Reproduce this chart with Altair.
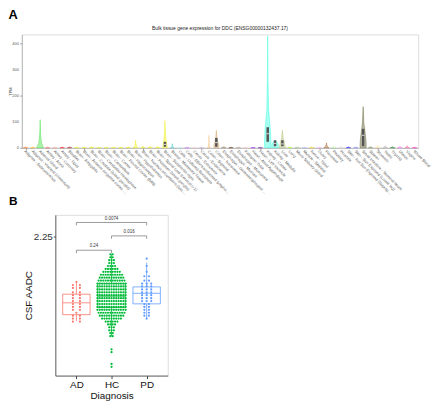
import altair as alt
import pandas as pd

FONT = "Liberation Sans"

# ---------------- Panel A data (GTEx violin) ----------------
tissues = [
    "Adipose - Subcutaneous", "Adipose - Visceral (Omentum)", "Adrenal Gland",
    "Artery - Aorta", "Artery - Coronary", "Artery - Tibial", "Bladder",
    "Brain - Amygdala", "Brain - Anterior cingulate cortex (BA24)",
    "Brain - Caudate (basal ganglia)", "Brain - Cerebellar Hemisphere",
    "Brain - Cerebellum", "Brain - Cortex", "Brain - Frontal Cortex (BA9)",
    "Brain - Hippocampus", "Brain - Hypothalamus",
    "Brain - Nucleus accumbens (basal ganglia)", "Brain - Putamen (basal ganglia)",
    "Brain - Spinal cord (cervical c-1)", "Brain - Substantia nigra",
    "Breast - Mammary Tissue", "Cells - Cultured fibroblasts",
    "Cells - EBV-transformed lymphocytes", "Cervix - Ectocervix",
    "Cervix - Endocervix", "Colon - Sigmoid", "Colon - Transverse",
    "Esophagus - Gastroesophageal Junction", "Esophagus - Mucosa",
    "Esophagus - Muscularis", "Fallopian Tube", "Heart - Atrial Appendage",
    "Heart - Left Ventricle", "Kidney - Cortex", "Kidney - Medulla", "Liver",
    "Lung", "Minor Salivary Gland", "Muscle - Skeletal", "Nerve - Tibial",
    "Ovary", "Pancreas", "Pituitary", "Prostate",
    "Skin - Not Sun Exposed (Suprapubic)", "Skin - Sun Exposed (Lower leg)",
    "Small Intestine - Terminal Ileum", "Spleen", "Stomach", "Testis",
    "Thyroid", "Uterus", "Vagina", "Whole Blood",
]
tissue_colors = [
    "#FF6600", "#FFAA00", "#33DD33", "#FF5555", "#FFAA99", "#FF0000", "#AA0000",
    "#EEEE00", "#EEEE00", "#EEEE00", "#EEEE00", "#EEEE00", "#EEEE00", "#EEEE00",
    "#EEEE00", "#EEEE00", "#EEEE00", "#EEEE00", "#EEEE00", "#EEEE00",
    "#33CCCC", "#AAEEFF", "#CC66FF", "#FFCCCC", "#CCAADD", "#EEBB77", "#CC9955",
    "#8B7355", "#552200", "#BB9988", "#FFCCCC", "#9900FF", "#660099",
    "#22FFDD", "#22FFDD", "#AABB66", "#99FF00", "#99BB88", "#AAAAFF", "#FFD700",
    "#FFAAFF", "#995522", "#AAFF99", "#DDDDDD", "#0000FF", "#7777FF",
    "#555522", "#778855", "#FFDD99", "#AAAAAA", "#006600", "#FF66FF",
    "#FF5599", "#FF00BB",
]
# violin top (max TPM) per tissue
violin_top = [
    4, 3, 108, 3, 3, 3, 4, 4, 3, 5, 2, 2, 3, 3, 4, 29, 7, 6, 5, 104,
    16, 1, 2, 3, 3, 48, 67, 5, 3, 4, 4, 2, 2, 430, 30, 67, 4, 4, 2, 4,
    3, 19, 5, 6, 4, 4, 158, 5, 10, 8, 4, 5, 8, 2,
]
# relative heights at which violin half-widths are read
violin_levels = [0, 0.05, 0.15, 0.35, 0.6, 1.0]
violin_hw_default = [0.3, 0.28, 0.2, 0.12, 0.06, 0.0]
violin_hw = {
    2: [0.45, 0.4, 0.22, 0.1, 0.05, 0.0],
    15: [0.3, 0.3, 0.2, 0.1, 0.05, 0.0],
    19: [0.3, 0.3, 0.25, 0.12, 0.06, 0.0],
    20: [0.25, 0.2, 0.1, 0.05, 0.03, 0.0],
    25: [0.2, 0.15, 0.08, 0.04, 0.02, 0.0],
    26: [0.3, 0.32, 0.35, 0.2, 0.08, 0.0],
    33: [0.42, 0.45, 0.38, 0.12, 0.05, 0.0],
    34: [0.45, 0.45, 0.45, 0.45, 0.35, 0.0],
    35: [0.4, 0.4, 0.35, 0.25, 0.1, 0.0],
    41: [0.35, 0.3, 0.2, 0.1, 0.05, 0.0],
    46: [0.4, 0.42, 0.4, 0.28, 0.1, 0.0],
}
box_tissue = [19, 26, 33, 34, 35, 46]
box_q1 = [4, 4, 23, 6, 6, 6]
box_med = [13, 20, 54, 17, 15, 48]
box_q3 = [23, 38, 79, 29, 29, 73]
tpm_ticks = [0, 100, 200, 300, 400]

rows = []
for i, name in enumerate(tissues):
    hws = violin_hw.get(i, violin_hw_default)
    for lv, hw in zip(violin_levels, hws):
        rows.append({"tissue": name, "idx": i, "tpm": violin_top[i] * lv, "hw": hw})
vio_df = pd.DataFrame(rows)
box_df = pd.DataFrame({"idx": box_tissue, "q1": box_q1, "med": box_med, "q3": box_q3})
lab_df = pd.DataFrame({"idx": list(range(len(tissues))), "name": tissues})
ytick_df = pd.DataFrame({"v": tpm_ticks})

A_W, A_H = 402, 115
xA_scale = alt.Scale(domain=[-0.5, 53.5], nice=False, zero=False)
xA_axis = alt.Axis(values=list(range(54)), labels=False, tickSize=2, tickColor="#999",
                   domainColor="#999", domainWidth=0.6, grid=False, title=None)
yA_scale = alt.Scale(domain=[0, 435], nice=False)
yA_axis = alt.Axis(values=tpm_ticks, labels=False, tickSize=2, tickColor="#999",
                   domainColor="#999", domainWidth=0.6, grid=False, title="TPM",
                   titleFontSize=4, titleFont=FONT, titleFontWeight="normal",
                   titleColor="#555", titlePadding=7)

violins = alt.Chart(vio_df).mark_area(
    orient="horizontal", fillOpacity=0.4, strokeWidth=0.5, strokeOpacity=0.8
).transform_calculate(
    lo="datum.idx - datum.hw", hi="datum.idx + datum.hw"
).encode(
    y=alt.Y("tpm:Q", scale=yA_scale, axis=yA_axis),
    x=alt.X("lo:Q", scale=xA_scale, axis=xA_axis),
    x2="hi:Q",
    detail="tissue:N",
    color=alt.Color("tissue:N", scale=alt.Scale(domain=tissues, range=tissue_colors), legend=None),
    stroke=alt.Stroke("tissue:N", scale=alt.Scale(domain=tissues, range=tissue_colors), legend=None),
)
boxesA = alt.Chart(box_df).mark_rect(color="#555555").transform_calculate(
    lo="datum.idx - 0.17", hi="datum.idx + 0.17"
).encode(x="lo:Q", x2="hi:Q", y="q1:Q", y2="q3:Q")
medA = alt.Chart(box_df).mark_rule(color="white", strokeWidth=0.8).transform_calculate(
    lo="datum.idx - 0.17", hi="datum.idx + 0.17"
).encode(x="lo:Q", x2="hi:Q", y="med:Q")
xlabels = alt.Chart(lab_df).mark_text(
    angle=45, align="left", baseline="middle", font=FONT, fontSize=4,
    color="#555", limit=62, dx=-1
).encode(x=alt.X("idx:Q"), y=alt.value(A_H + 4), text="name:N")
ylabels = alt.Chart(ytick_df).mark_text(
    align="right", baseline="middle", font=FONT, fontSize=4, color="#555"
).encode(y=alt.Y("v:Q"), x=alt.value(-3), text="v:Q")
gene_title = alt.Chart(pd.DataFrame({"t": ["Bulk tissue gene expression for DDC (ENSG00000132437.17)"]})).mark_text(
    font=FONT, fontSize=5, color="#222", baseline="bottom"
).encode(text="t:N", x=alt.value(A_W / 2), y=alt.value(-3))
panel_b_tag = alt.Chart(pd.DataFrame({"t": ["B"]})).mark_text(
    font=FONT, fontSize=12, fontWeight="bold", color="#000", align="left", baseline="middle"
).encode(text="t:N", x=alt.value(-13), y=alt.value(A_H + 54))

panelA = alt.layer(violins, boxesA, medA, xlabels, ylabels, gene_title, panel_b_tag).properties(
    width=A_W, height=A_H,
    title=alt.TitleParams("A", anchor="start", fontSize=13, font=FONT,
                          fontWeight="bold", offset=5, frame="bounds", dx=0),
)

# ---------------- Panel B data (CSF AADC) ----------------
groups = ["AD", "HC", "PD"]
group_colors = ["#F8766D", "#00BA38", "#619CFF"]
ad_values = [1.94, 1.92, 1.92, 1.90, 1.90, 1.87, 1.87, 1.85, 1.85, 1.83, 1.83,
             1.81, 1.81, 1.79, 1.79, 1.77, 1.77, 1.75, 1.75, 1.73, 1.71, 1.71,
             1.69, 1.69, 1.67, 1.67]
pd_values = [2.10, 2.05, 2.01, 1.98, 1.98, 1.95, 1.95, 1.93, 1.93, 1.93,
             1.91, 1.91, 1.91, 1.89, 1.89, 1.89, 1.87, 1.87, 1.87, 1.85, 1.85,
             1.85, 1.83, 1.83, 1.83, 1.81, 1.81, 1.81, 1.79, 1.79, 1.77, 1.77,
             1.75, 1.75, 1.73, 1.73, 1.71, 1.71, 1.69]
hc_levels = [2.13, 2.11, 2.09, 2.07, 2.05, 2.03, 2.01, 1.99, 1.97, 1.95, 1.93,
             1.91, 1.89, 1.87, 1.85, 1.83, 1.81, 1.79, 1.77, 1.75, 1.73, 1.71,
             1.69, 1.67, 1.65, 1.63, 1.61, 1.59, 1.57, 1.48, 1.46, 1.38, 1.36]
hc_counts = [2, 2, 3, 3, 4, 6, 8, 10, 11, 12, 13, 13, 13, 13, 13, 13, 13, 13, 13,
             13, 12, 11, 9, 6, 4, 3, 3, 2, 2, 1, 1, 1, 1]
box_lo = [1.673, 1.57, 1.688]
box_q1B = [1.717, 1.765, 1.791]
box_medB = [1.798, 1.843, 1.863]
box_q3B = [1.857, 1.929, 1.907]
box_hi = [1.944, 2.13, 2.073]
cmp_from = [1, 2, 1]
cmp_to = [3, 3, 2]
cmp_y = [2.348, 2.256, 2.158]
cmp_label = ["0.0074", "0.016", "0.24"]

pts = [{"group": "AD", "value": v} for v in ad_values]
for lv, c in zip(hc_levels, hc_counts):
    pts += [{"group": "HC", "value": lv}] * c
pts += [{"group": "PD", "value": v} for v in pd_values]
pts_df = pd.DataFrame(pts)
boxB_df = pd.DataFrame({"group": groups, "lo": box_lo, "q1": box_q1B,
                        "med": box_medB, "q3": box_q3B, "hi": box_hi})
cmp_df = pd.DataFrame({"a": cmp_from, "b": cmp_to, "y": cmp_y, "label": cmp_label})

color_scale = alt.Scale(domain=groups, range=group_colors)
xB_scale = alt.Scale(domain=[0.4, 3.6], nice=False, zero=False)
yB_scale = alt.Scale(domain=[1.3, 2.4], nice=False, zero=False)
xB_axis = alt.Axis(values=[1, 2, 3], labelExpr="['AD','HC','PD'][datum.value-1]",
                   labelFontSize=10, labelFont=FONT, labelColor="#111", labelFlush=False,
                   tickSize=3, tickColor="#444", domainColor="#444", domainWidth=0.8,
                   grid=False, title="Diagnosis", titleFontSize=10, titleFont=FONT,
                   titleFontWeight="normal", titleColor="#111", titlePadding=1, labelPadding=1)
yB_axis = alt.Axis(values=[2.25], format=".2f", labelFontSize=10, labelFont=FONT,
                   labelColor="#333", tickSize=2, tickColor="#444", domainColor="#444",
                   domainWidth=0.8, grid=False, title="CSF AADC", titleFontSize=10,
                   titleFont=FONT, titleFontWeight="normal", titleColor="#111",
                   titlePadding=0, labelPadding=1)

gidx = "indexof(['AD','HC','PD'], datum.group) + 1"

boxB = alt.Chart(boxB_df).mark_rect(fill="white", fillOpacity=0, strokeWidth=0.8).transform_calculate(
    x1=gidx + " - 0.39", x2=gidx + " + 0.39"
).encode(
    x=alt.X("x1:Q", scale=xB_scale, axis=xB_axis), x2="x2:Q",
    y=alt.Y("q1:Q", scale=yB_scale, axis=yB_axis), y2="q3:Q",
    stroke=alt.Stroke("group:N", scale=color_scale, legend=None),
)
medB = alt.Chart(boxB_df).mark_rule(strokeWidth=0.8).transform_calculate(
    x1=gidx + " - 0.39", x2=gidx + " + 0.39"
).encode(x="x1:Q", x2="x2:Q", y="med:Q",
         color=alt.Color("group:N", scale=color_scale, legend=None))
whiskHi = alt.Chart(boxB_df).mark_rule(strokeWidth=0.8).transform_calculate(
    xc=gidx
).encode(x="xc:Q", y="q3:Q", y2="hi:Q",
         color=alt.Color("group:N", scale=color_scale, legend=None))
whiskLo = alt.Chart(boxB_df).mark_rule(strokeWidth=0.8).transform_calculate(
    xc=gidx
).encode(x="xc:Q", y="lo:Q", y2="q1:Q",
         color=alt.Color("group:N", scale=color_scale, legend=None))

points = alt.Chart(pts_df).mark_circle(size=5, opacity=1).transform_window(
    r="row_number()", groupby=["group", "value"]
).transform_joinaggregate(
    n="count()", groupby=["group", "value"]
).transform_calculate(
    sp="datum.group == 'HC' ? 0.067 : (datum.group == 'AD' ? 0.2 : 0.13)"
).transform_calculate(
    xp=gidx + " + (datum.r - 1 - (datum.n - 1) / 2) * datum.sp"
).encode(x="xp:Q", y="value:Q",
         color=alt.Color("group:N", scale=color_scale, legend=None))

br_h = alt.Chart(cmp_df).mark_rule(color="#555", strokeWidth=0.6).encode(
    x="a:Q", x2="b:Q", y="y:Q")
br_l = alt.Chart(cmp_df).mark_rule(color="#555", strokeWidth=0.6).transform_calculate(
    y2="datum.y - 0.02").encode(x="a:Q", y="y:Q", y2="y2:Q")
br_r = alt.Chart(cmp_df).mark_rule(color="#555", strokeWidth=0.6).transform_calculate(
    y2="datum.y - 0.02").encode(x="b:Q", y="y:Q", y2="y2:Q")
br_t = alt.Chart(cmp_df).mark_text(font=FONT, fontSize=4.5, color="#333", baseline="bottom", dy=-2).transform_calculate(
    xm="(datum.a + datum.b) / 2").encode(x="xm:Q", y="y:Q", text="label:N")

panelB = alt.layer(boxB, medB, whiskHi, whiskLo, points, br_h, br_l, br_r, br_t).properties(
    width=114, height=163,
)

spacer = alt.Chart(pd.DataFrame({"s": [""]})).mark_text().encode(
    text="s:N").properties(width=1, height=1)
rowB = alt.hconcat(spacer, panelB, spacing=0)

chart = alt.vconcat(panelA, rowB, spacing=1).resolve_scale(
    color="independent", stroke="independent"
).properties(
    padding={"left": 0, "top": -3, "right": 0, "bottom": -2}
).configure_view(stroke=None).configure(background="white")

chart.save("out.html", embed_options={"renderer": "svg", "actions": False})
